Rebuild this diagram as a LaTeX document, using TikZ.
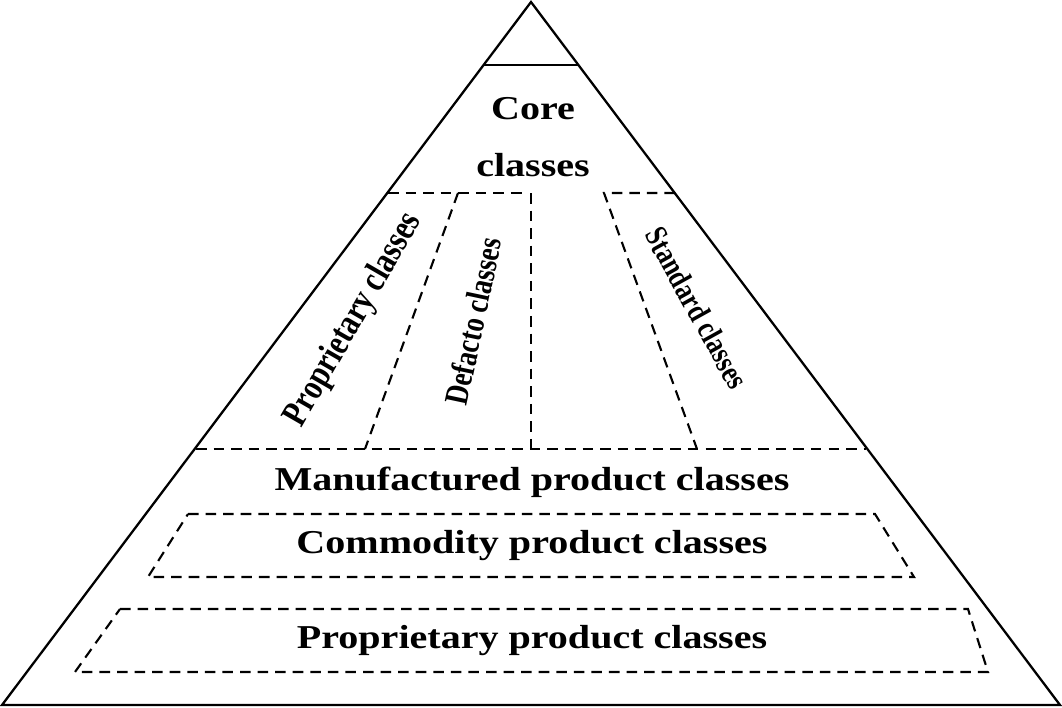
\documentclass[tikz,border=0pt]{standalone}
\usepackage{fontspec}
\setmainfont{Liberation Serif}
\begin{document}
\begin{tikzpicture}[x=0.02cm,y=-0.02cm,
  solidline/.style={draw=black,line width=1.3pt},
  dline/.style={draw=black,line width=1.2pt,dash pattern=on 6pt off 4pt},
  lab/.style={font=\bfseries\fontsize{19}{19}\selectfont\addfontfeature{FakeStretch=1.2},align=center,inner sep=0pt},
  rlab/.style={align=center,inner sep=0pt}]
\useasboundingbox (0,0) rectangle (1062,707);
\coordinate (A) at (531,2); \coordinate (L) at (2,705); \coordinate (R) at (1060,705);
\draw[solidline] (A) -- (L) -- (R) -- cycle;
\coordinate (t1) at (483,65); \coordinate (t2) at (579,65);
\draw[solidline] (t1) -- (t2);
\coordinate (m1) at (196,449); \coordinate (m2) at (866,449);
\draw[dline] (m1) -- (m2);
\coordinate (p1) at (388,193); \coordinate (p2) at (528,193);
\draw[dline] (p1) -- (p2);
\coordinate (v1) at (531,193); \coordinate (v2) at (531,449);
\draw[dline] (v1) -- (v2);
\coordinate (q1) at (458,193); \coordinate (q2) at (365,449);
\draw[dline] (q1) -- (q2);
\coordinate (s1) at (604,193); \coordinate (s2) at (675,193); \coordinate (s3) at (697,449);
\draw[dline] (s2) -- (s1) -- (s3);
\draw[dline] (188,514) -- (875,514) -- (914,577) -- (148,577) -- cycle;
\draw[dline] (120,609) -- (968,609) -- (988,672) -- (75,672) -- cycle;
\node[lab,font=\bfseries\fontsize{19}{32}\selectfont\addfontfeature{FakeStretch=1.2}] (core) at (533,137) {Core\\classes};
\node[lab] (man) at (532,482) {Manufactured product classes};
\node[lab] (com) at (532,546) {Commodity product classes};
\node[lab] (pro) at (532,641) {Proprietary product classes};
\node[rlab,rotate=60,font=\bfseries\fontsize{21}{21}\selectfont\addfontfeature{FakeStretch=0.8}] (pc) at (354,320) {Proprietary classes};
\node[rlab,rotate=78,font=\bfseries\fontsize{19}{19}\selectfont\addfontfeature{FakeStretch=0.8}] (dc) at (473,321) {Defacto classes};
\node[rlab,rotate=-61,font=\bfseries\fontsize{18}{18}\selectfont\addfontfeature{FakeStretch=0.8}] (sc) at (697,308) {Standard classes};
\end{tikzpicture}
\end{document}
